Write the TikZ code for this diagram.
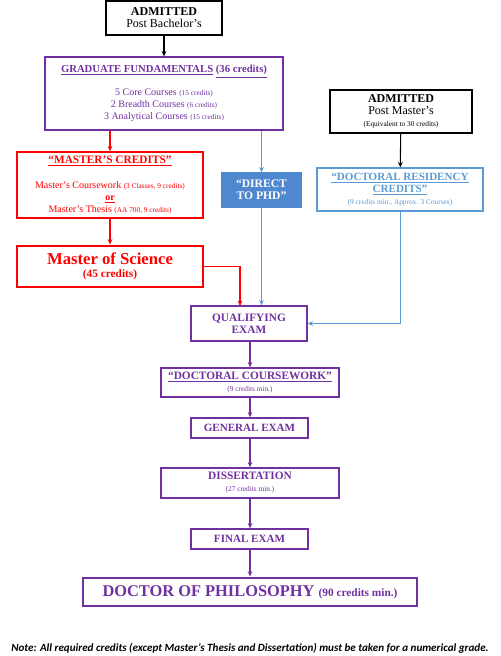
\documentclass[tikz,border=0pt]{standalone}
\usepackage{fontspec}
\setmainfont{Liberation Serif}
\newfontfamily\notefont{Carlito}
\usetikzlibrary{arrows.meta}

\definecolor{phdpurple}{RGB}{112,48,160}
\definecolor{msred}{RGB}{255,0,0}
\definecolor{linkblue}{RGB}{91,155,213}
\definecolor{fillblue}{RGB}{79,136,206}

\begin{document}
\begin{tikzpicture} [
    x=0.75pt, y=-0.75pt,
    >={Stealth[length=4pt,width=3.5pt]},
  ]

  \tikzstyle{stepbox} = [
    rectangle,
    draw,
    line width=1pt,
    inner sep=0pt,
    align=center,
    font=\fontsize{8}{9}\selectfont,
  ]
  \tikzstyle{admbox} = [stepbox, draw=black, text=black]
  \tikzstyle{phdbox} = [stepbox, draw=phdpurple, text=phdpurple]
  \tikzstyle{msbox}  = [stepbox, draw=msred, text=msred]
  \tikzstyle{bluebox} = [stepbox, draw=linkblue, text=linkblue]
  \tikzstyle{link} = [->, line width=0.8pt]

  \useasboundingbox (0,0) rectangle (500,656);

  % entry points
  \node[admbox, minimum width=87pt, minimum height=25.5pt] (admbach) at (164,18)
    {\fontsize{9}{10.5}\selectfont\textbf{ADMITTED}\\ \fontsize{9}{10.5}\selectfont Post Bachelor’s};
  \node[phdbox, minimum width=178.5pt, minimum height=54.75pt] (fund) at (164,93.5)
    {\textbf{\underline{GRADUATE FUNDAMENTALS}} \textbf{\underline{(36 credits)}}\\[8pt]
     \fontsize{7.5}{8.3}\selectfont 5 Core Courses {\fontsize{5.5}{6}\selectfont(15 credits)}\\
     \fontsize{7.5}{8.3}\selectfont 2 Breadth Courses {\fontsize{5.5}{6}\selectfont(6 credits)}\\
     \fontsize{7.5}{8.3}\selectfont 3 Analytical Courses {\fontsize{5.5}{6}\selectfont(15 credits)}};
  \node[admbox, minimum width=106.5pt, minimum height=32.25pt] (admmast) at (401,111.5)
    {\fontsize{9}{10.5}\selectfont\textbf{ADMITTED}\\ \fontsize{9}{10.5}\selectfont Post Master’s\\
     \fontsize{5.5}{7}\selectfont(Equivalent to 30 credits)};

  % masters track
  \node[msbox, minimum width=139.5pt, minimum height=49.5pt] (mcred) at (110,185)
    {\fontsize{8.5}{9}\selectfont\textbf{\underline{“MASTER’S CREDITS”}}\\[10pt]
     \fontsize{7.5}{9}\selectfont Master’s Coursework {\fontsize{5.5}{6}\selectfont(3 Classes, 9 credits)}\\
     \fontsize{7.5}{9}\selectfont\textbf{\underline{or}}\\
     \fontsize{7.5}{9}\selectfont Master’s Thesis {\fontsize{5.5}{6}\selectfont(AA 700, 9 credits)}};
  \node[msbox, line width=2.2pt, minimum width=139.5pt, minimum height=30.75pt] (ms) at (110,266.5)
    {\fontsize{12.5}{14}\selectfont\textbf{Master of Science}\\[1pt] \fontsize{8.5}{10}\selectfont\textbf{(45 credits)}};

  % direct and residency
  \node[stepbox, draw=fillblue, fill=fillblue, text=white, minimum width=59.25pt, minimum height=25.5pt] (direct) at (261.5,190)
    {\fontsize{8.7}{10}\selectfont\textbf{“DIRECT}\\ \fontsize{8.7}{10}\selectfont\textbf{TO PHD”}};
  \node[bluebox, minimum width=124.5pt, minimum height=32.25pt] (resid) at (400,189.5)
    {\fontsize{8.3}{10}\selectfont\textbf{\underline{“DOCTORAL RESIDENCY}}\\
     \fontsize{8.3}{10}\selectfont\textbf{\underline{CREDITS”}}\\
     \fontsize{5.5}{7.5}\selectfont(9 credits min., Approx. 3 Courses)};

  % doctoral track
  \node[phdbox, minimum width=87pt, minimum height=26.25pt] (qual) at (249,323.5)
    {\fontsize{8.5}{10.5}\selectfont\textbf{QUALIFYING}\\ \fontsize{8.5}{10.5}\selectfont\textbf{EXAM}};
  \node[phdbox, minimum width=133.5pt, minimum height=21.75pt] (dcw) at (250,382.5)
    {\fontsize{8.5}{9}\selectfont\textbf{\underline{“DOCTORAL COURSEWORK”}}\\ \fontsize{5.5}{7.5}\selectfont(9 credits min.)};
  \node[phdbox, minimum width=87.75pt, minimum height=15pt] (gen) at (249.5,428)
    {\fontsize{8.3}{10}\selectfont\textbf{GENERAL EXAM}};
  \node[phdbox, minimum width=133.5pt, minimum height=22.5pt] (diss) at (250,483)
    {\fontsize{8.5}{9}\selectfont\textbf{DISSERTATION}\\ \fontsize{5.5}{7.5}\selectfont(27 credits min.)};
  \node[phdbox, minimum width=87.75pt, minimum height=15pt] (final) at (249.5,539)
    {\fontsize{8.3}{10}\selectfont\textbf{FINAL EXAM}};
  \node[phdbox, line width=2.2pt, minimum width=250.5pt, minimum height=21pt] (phd) at (250,592)
    {\fontsize{12.3}{14}\selectfont\textbf{DOCTOR OF PHILOSOPHY} \fontsize{8.5}{10}\selectfont\textbf{(90 credits min.)}};

  \node[font=\notefont\bfseries\itshape\fontsize{8.3}{10}\selectfont] (note) at (250,648)
    {Note: All required credits (except Master’s Thesis and Dissertation) must be taken for a numerical grade.};

  % connectors
  \draw[link] (admbach) -- (fund);
  \draw[link] (admmast) -- (resid);
  \draw[link, msred] (fund.south -| mcred) -- (mcred);
  \draw[link, msred] (mcred) -- (ms);
  \draw[link, msred] (ms.east) -| (240,306);
  \draw[link, linkblue, line width=0.7pt] (fund.south -| direct) -- (direct);
  \draw[link, linkblue, line width=0.7pt] (direct) -- (direct |- qual.north);
  \draw[link, linkblue, line width=0.7pt] (resid) |- (qual.east);
  \draw[link, phdpurple] (qual.south -| dcw) -- (dcw);
  \draw[link, phdpurple] (dcw) -- (dcw |- gen.north);
  \draw[link, phdpurple] (dcw |- gen.south) -- (diss);
  \draw[link, phdpurple] (diss) -- (diss |- final.north);
  \draw[link, phdpurple] (diss |- final.south) -- (phd);

\end{tikzpicture}
\end{document}
